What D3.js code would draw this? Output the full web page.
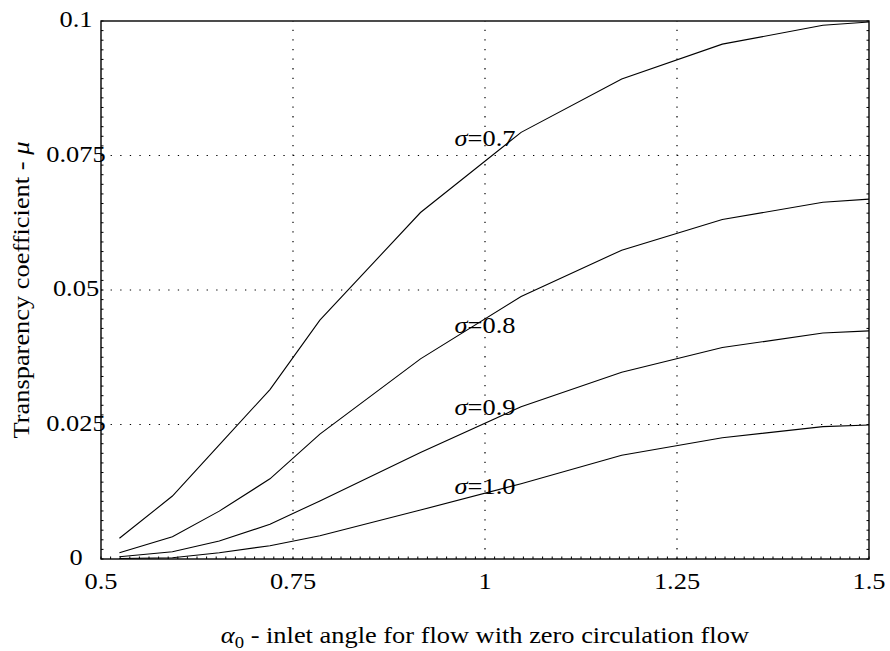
<!DOCTYPE html>
<html>
<head>
<meta charset="utf-8">
<script src="https://cdn.jsdelivr.net/npm/d3@7"></script>
</head>
<body style="margin:0">
<svg width="890" height="651"></svg>
<script>
// inlet angle (rad) sample points
const alpha = [0.524, 0.593, 0.654, 0.72, 0.785, 0.916, 1.047, 1.178, 1.309, 1.44, 1.5];
const mu07 = [0.00385, 0.0117, 0.0212, 0.0315, 0.0444, 0.0644, 0.0793, 0.0892, 0.0957, 0.0992, 0.0998];
const mu08 = [0.00117, 0.00414, 0.0089, 0.0149, 0.0232, 0.0372, 0.0488, 0.0574, 0.0631, 0.0663, 0.0669];
const mu09 = [0.00043, 0.00136, 0.00335, 0.00645, 0.0108, 0.0198, 0.0283, 0.0347, 0.0393, 0.042, 0.0424];
const mu10 = [0.0001, 0.00024, 0.00117, 0.00247, 0.00433, 0.0091, 0.014, 0.0193, 0.02255, 0.0246, 0.0249];
const sigmas = ["0.7", "0.8", "0.9", "1.0"];
const labelX = [1.0, 1.0, 1.0, 1.0];
const labelY = [0.0768, 0.04195, 0.02677, 0.01203];
const xTicks = [0.5, 0.75, 1, 1.25, 1.5];
const xTickLabels = ["0.5", "0.75", "1", "1.25", "1.5"];
const yTicks = [0, 0.025, 0.05, 0.075, 0.1];
const yTickLabels = ["0", "0.025", "0.05", "0.075", "0.1"];

const series = [mu07, mu08, mu09, mu10];

const pL = 101, pR = 869, pT = 21, pB = 559;
const svg = d3.select("svg");

const x = d3.scaleLinear().domain([0.5, 1.5]).range([pL, pR]);
const y = d3.scaleLinear().domain([0, 0.1]).range([pB, pT]);

// dotted grid
svg.append("g").selectAll("line")
  .data(xTicks.slice(1, -1))
  .enter().append("line")
  .attr("x1", d => x(d)).attr("x2", d => x(d))
  .attr("y1", pB).attr("y2", pT)
  .attr("stroke", "#000").attr("stroke-width", 1.2)
  .attr("stroke-dasharray", "1.3,8.3");
svg.append("g").selectAll("line")
  .data(yTicks.slice(1, -1))
  .enter().append("line")
  .attr("x1", pL).attr("x2", pR)
  .attr("y1", d => y(d)).attr("y2", d => y(d))
  .attr("stroke", "#000").attr("stroke-width", 1.2)
  .attr("stroke-dasharray", "1.3,8.3");

// minor ticks inside the frame
const xMinor = d3.range(0.5, 1.5001, 0.0125);
const yMinor = d3.range(0, 0.1001, 0.025 / 14);
const ticks = svg.append("g").attr("stroke", "#000").attr("stroke-width", 1);
ticks.selectAll(".xb").data(xMinor).enter().append("line")
  .attr("x1", d => x(d)).attr("x2", d => x(d))
  .attr("y1", pB).attr("y2", pB - 2.5);
ticks.selectAll(".yl").data(yMinor).enter().append("line")
  .attr("x1", pL).attr("x2", pL + 2.5)
  .attr("y1", d => y(d)).attr("y2", d => y(d));
ticks.selectAll(".yr").data(yMinor).enter().append("line")
  .attr("x1", pR).attr("x2", pR - 2.5)
  .attr("y1", d => y(d)).attr("y2", d => y(d));

// curves
const line = d3.line().x(d => x(d[0])).y(d => y(d[1]));
svg.append("g").selectAll("path")
  .data(series)
  .enter().append("path")
  .attr("d", s => line(alpha.map((a, i) => [a, s[i]])))
  .attr("fill", "none")
  .attr("stroke", "#000")
  .attr("stroke-width", 1.1);

// frame
svg.append("rect")
  .attr("x", pL).attr("y", pT)
  .attr("width", pR - pL).attr("height", pB - pT)
  .attr("fill", "none").attr("stroke", "#000").attr("stroke-width", 1.4);

// text helper: start-anchored text, centred by measuring it
const SX = 1.1;
function label(fill) {
  const t = svg.append("text")
    .attr("font-size", 24)
    .style("font-family", "'Liberation Serif'");
  fill(t);
  return t;
}
function centre(t, px, py, rot) {
  const w = t.node().getComputedTextLength() * SX;
  if (rot) t.attr("transform", "translate(" + px + "," + py + ") rotate(-90) translate(" + (-w / 2) + ",0) scale(" + SX + ",1)");
  else t.attr("transform", "translate(" + (px - w / 2) + "," + py + ") scale(" + SX + ",1)");
}

xTicks.forEach((d, i) => centre(label(t => t.text(xTickLabels[i])), x(d), 589));
yTicks.forEach((d, i) => centre(label(t => t.text(yTickLabels[i])), 76, y(d) + 6));

// curve labels
sigmas.forEach((s, i) => {
  const t = label(t => {
    t.append("tspan").attr("font-style", "italic").text("\u03c3");
    t.append("tspan").text("=" + s);
  });
  centre(t, x(labelX[i]), y(labelY[i]));
});

// axis titles
const xt = label(t => {
  t.append("tspan").attr("font-style", "italic").text("\u03b1");
  t.append("tspan").attr("dy", 5).attr("font-size", 17).text("0");
  t.append("tspan").attr("dy", -5).text(" - inlet angle for flow with zero circulation flow");
});
centre(xt, (pL + pR) / 2, 643);

const yt = label(t => {
  t.append("tspan").text("Transparency coefficient - ");
  t.append("tspan").attr("font-style", "italic").text("\u03bc");
});
centre(yt, 29, (pT + pB) / 2, true);
</script>
</body>
</html>
